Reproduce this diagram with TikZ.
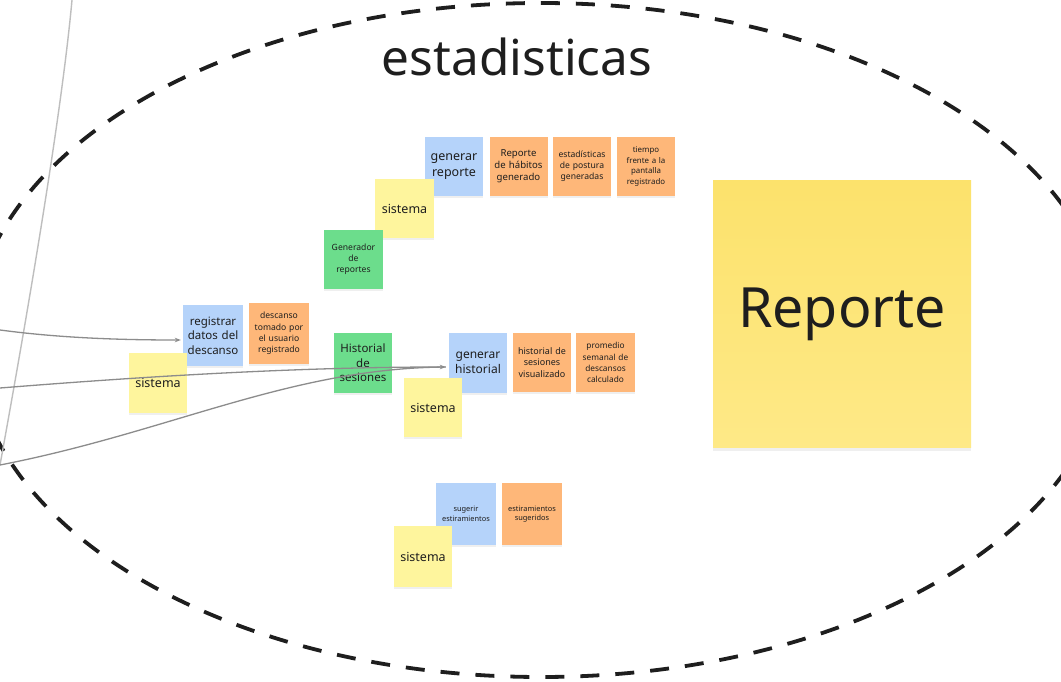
\documentclass[tikz,border=0pt]{standalone}
\usepackage{fontspec}
\setmainfont{Noto Sans}
\usetikzlibrary{shadows,arrows.meta}
\definecolor{nblue}{RGB}{181,211,250}
\definecolor{norange}{RGB}{254,183,121}
\definecolor{ngreen}{RGB}{108,221,140}
\definecolor{nyellow}{RGB}{254,245,157}
\definecolor{bigtop}{RGB}{252,226,108}
\definecolor{bigbot}{RGB}{254,233,135}
\definecolor{ink}{RGB}{30,30,30}
\definecolor{conn}{RGB}{140,140,140}
\definecolor{lightconn}{RGB}{190,190,190}
\tikzset{
  note/.style={draw=none, inner sep=0pt, align=center, text=ink,
    minimum width=58pt, minimum height=59pt, text width=54pt,
    drop shadow={shadow xshift=0pt, shadow yshift=-2pt, opacity=0.12}},
  blue/.style={note, fill=nblue},
  orange/.style={note, fill=norange},
  green/.style={note, fill=ngreen},
  yellow/.style={note, fill=nyellow},
  big/.style={font=\fontsize{12.5}{15.5}\selectfont},
  mid/.style={font=\fontsize{11.5}{14.5}\selectfont},
  small/.style={font=\fontsize{8.6}{11.2}\selectfont},
  tiny/.style={font=\fontsize{7.4}{9.6}\selectfont},
  boundary/.style={draw=ink, line width=3.8pt, dash pattern=on 19pt off 16pt},
  link/.style={draw=conn, line width=1.3pt, -{Stealth[length=6pt,width=4.5pt]}},
  plainlink/.style={draw=conn, line width=1.3pt},
  faint/.style={draw=lightconn, line width=1.4pt}
}
\begin{document}
\begin{tikzpicture}[x=1pt,y=-1pt]
\useasboundingbox (0,0) rectangle (1061,682);
\fill[white] (0,0) rectangle (1061,682);
% boundary
\path[boundary] (541,340) ellipse [x radius=569, y radius=337];
\node[font=\fontsize{49.5}{55}\selectfont, text=ink] (title) at (517,57) {estadisticas};

% big note
\node[draw=none, inner sep=0pt, minimum width=258pt, minimum height=266pt,
  top color=bigtop, bottom color=bigbot, text=ink,
  font=\fontsize{55.5}{60}\selectfont,
  drop shadow={shadow xshift=0pt, shadow yshift=-4pt, opacity=0.12}] (rep) at (842,314) {Reporte};

% generar reporte group
\node[blue, big] (genrep) at (454,166.5) {generar\\reporte};
\node[orange, font=\fontsize{9.6}{12.2}\selectfont] (o1) at (518.5,166.5) {Reporte\\de hábitos\\generado};
\node[orange, small] (o2) at (582,166.5) {estadísticas\\de postura\\generadas};
\node[orange, font=\fontsize{7.9}{10.7}\selectfont] (o3) at (646,166.5) {tiempo\\frente a la\\pantalla\\registrado};
\node[yellow, big, minimum width=59pt] (sis1) at (404.5,208.5) {sistema};
\node[green, small, minimum width=59pt] (gen) at (353.5,259.5) {Generador\\de\\reportes};

% registrar datos group
\node[blue, mid, minimum width=60pt, minimum height=61pt] (reg) at (213,335.5) {registrar\\datos del\\descanso};
\node[orange, small, minimum width=60pt, minimum height=61pt] (o4) at (279,333.5) {descanso\\tomado por\\el usuario\\registrado};
\node[yellow, big, minimum height=60pt] (sis2) at (158,383) {sistema};

% historial group
\node[green, mid, minimum height=60pt] (hist) at (363,363) {Historial\\de\\sesiones};
\node[blue, font=\fontsize{12}{15.5}\selectfont, minimum height=60pt] (genhist) at (478,363) {generar\\historial};
\node[orange, font=\fontsize{9}{11.6}\selectfont] (o5) at (542,362.5) {historial de\\sesiones\\visualizado};
\node[orange, font=\fontsize{8.3}{11.2}\selectfont, minimum width=59pt] (o6) at (605.5,362.5) {promedio\\semanal de\\descansos\\calculado};
\node[yellow, big, minimum height=59pt] (sis3) at (433,407.5) {sistema};

% estiramientos group
\node[blue, tiny, minimum width=60pt, minimum height=62pt] (sug) at (466,514) {sugerir\\estiramientos};
\node[orange, tiny, minimum width=60pt, minimum height=62pt] (o7) at (532,514) {estiramientos\\sugeridos};
\node[yellow, big, minimum height=61pt] (sis4) at (423,556.5) {sistema};

% connectors
\coordinate (v1) at (72,0);
\coordinate (v2) at (0,465);
\coordinate (s1) at (0,330);
\coordinate (s2) at (0,388);
\coordinate (s3) at (0,465);
\draw[faint] (v1) .. controls (62,110) and (30,300) .. (v2);
\draw[link, shorten >=2pt] (s1) .. controls (60,338) and (120,340) .. ([yshift=-4.5pt]reg.west);
\draw[link, shorten >=3pt] (s2) .. controls (150,376) and (300,367) .. ([yshift=-4pt]genhist.west);
\draw[plainlink, shorten >=3pt] (s3) .. controls (170,432) and (290,368) .. ([yshift=-4pt]genhist.west);
\end{tikzpicture}
\end{document}
